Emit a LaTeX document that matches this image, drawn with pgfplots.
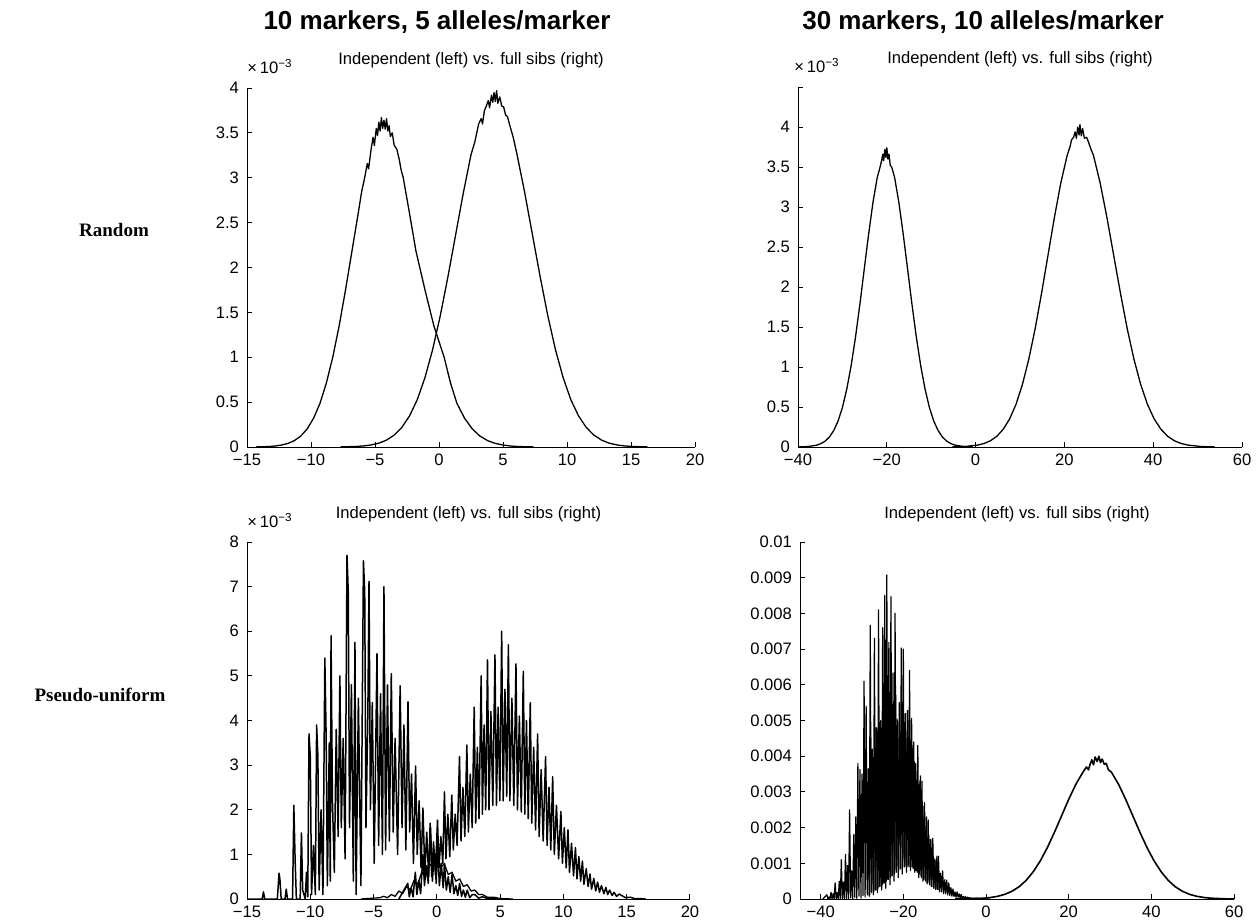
\documentclass[border=0pt]{standalone}
\usepackage{fontspec}
\setmainfont{Liberation Sans}
\newfontfamily\rowserif{Liberation Serif}
\usepackage{pgfplots}
\pgfplotsset{compat=1.18}
\newcommand\tfont{\fontsize{8.3}{10}\selectfont}
\pgfplotsset{
 d/.style={black, line width=0.65pt, mark=none, line join=round},
 mystyle/.style={
  scale only axis,
  anchor=south west,
  axis x line=bottom, axis y line=left,
  axis line style={-, line width=0.5pt, black},
  tick align=inside,
  major tick length=2.5pt,
  tick style={line width=0.5pt, black},
  ticklabel style={font=\tfont},
  yticklabel style={xshift=-0.5pt},
  title style={font=\tfont, at={(0.5,1)}, anchor=base, yshift=6pt},
  title={Independent (left) vs. full sibs (right)},
  /pgf/number format/assume math mode=true,
 },
 xten/.style={extra description/.code={\node[anchor=base west, font=\tfont, inner sep=0pt, xshift=#1] at (axis description cs:0,1) [yshift=7.5pt] {×\,10\textsuperscript{−3}};}},
}
\begin{document}
\begin{tikzpicture}
\path[use as bounding box] (0,0) rectangle (629pt,-461.5pt);

% column titles and row labels
\node[font=\fontsize{13}{15}\selectfont\bfseries] at (218.5pt,-11pt) {10 markers, 5 alleles/marker};
\node[font=\fontsize{13}{15}\selectfont\bfseries] at (491.5pt,-11pt) {30 markers, 10 alleles/marker};
\node[font=\rowserif\fontsize{9.5}{11}\selectfont\bfseries] at (57pt,-115pt) {Random};
\node[font=\rowserif\fontsize{9.5}{11}\selectfont\bfseries] at (50pt,-347.5pt) {Pseudo-uniform};

% ---------------- top left ----------------
\begin{axis}[mystyle, xten=0pt, at={(123.5pt,-223.5pt)}, width=224pt, height=179.5pt,
  xmin=-15, xmax=20, ymin=0, ymax=4,
  xtick={-15,-10,-5,0,5,10,15,20}, xticklabels={−15,−10,−5,0,5,10,15,20},
  ytick={0,0.5,1,1.5,2,2.5,3,3.5,4}, yticklabels={0,0.5,1,1.5,2,2.5,3,3.5,4}]
\addplot[d] coordinates {(-14.3,0.001) (-13.3,0.005) (-12.8,0.011) (-12.3,0.022) (-11.8,0.040) (-11.3,0.071) (-10.8,0.122) (-10.3,0.202) (-9.8,0.320) (-9.3,0.486) (-8.8,0.713) (-8.3,1.001) (-7.8,1.350) (-7.3,1.753) (-6.8,2.183) (-6.3,2.614) (-6.05,2.84) (-5.8,3.006) (-5.6,3.16) (-5.5,3.10) (-5.3,3.323) (-5.15,3.45) (-5.05,3.36) (-4.9,3.55) (-4.8,3.47) (-4.7,3.62) (-4.6,3.52) (-4.5,3.67) (-4.4,3.55) (-4.3,3.64) (-4.2,3.54) (-4.1,3.66) (-4.0,3.52) (-3.9,3.58) (-3.8,3.46) (-3.65,3.50) (-3.5,3.36) (-3.3,3.32) (-3.1,3.20) (-2.95,3.08) (-2.8,3.006) (-2.3,2.60) (-1.8,2.183) (-1.1,1.753) (-0.4,1.350) (0.4,1.001) (0.9,0.713) (1.4,0.486) (2.0,0.320) (2.6,0.202) (3.2,0.122) (3.8,0.071) (4.4,0.040) (5.0,0.022) (5.6,0.011) (6.2,0.005) (7.4,0.001)};
\addplot[d] coordinates {(-7.7,0.001) (-6.5,0.006) (-5.9,0.012) (-5.3,0.023) (-4.7,0.043) (-4.1,0.077) (-3.5,0.133) (-2.9,0.219) (-2.3,0.347) (-1.7,0.527) (-1.1,0.772) (-0.5,1.084) (0.1,1.463) (0.7,1.899) (1.3,2.365) (1.9,2.831) (2.5,3.257) (2.8,3.40) (3.1,3.600) (3.3,3.66) (3.4,3.60) (3.55,3.75) (3.7,3.80) (3.85,3.86) (3.95,3.78) (4.1,3.92) (4.2,3.84) (4.3,3.95) (4.4,3.85) (4.5,3.97) (4.6,3.83) (4.75,3.90) (4.9,3.80) (5.05,3.79) (5.2,3.70) (5.35,3.68) (5.5,3.60) (5.8,3.45) (6.1,3.257) (6.7,2.831) (7.3,2.365) (7.9,1.899) (8.5,1.463) (9.1,1.084) (9.7,0.772) (10.3,0.527) (10.9,0.347) (11.5,0.219) (12.1,0.133) (12.7,0.077) (13.3,0.043) (13.9,0.023) (14.5,0.012) (15.1,0.006) (16.3,0.001)};
\end{axis}

% ---------------- top right ----------------
\begin{axis}[mystyle, xten=-2pt, at={(399pt,-223.5pt)}, width=222pt, height=180pt,
  xmin=-40, xmax=60, ymin=0, ymax=4.5,
  xtick={-40,-20,0,20,40,60}, xticklabels={−40,−20,0,20,40,60},
  ytick={0,0.5,1,1.5,2,2.5,3,3.5,4}, yticklabels={0,0.5,1,1.5,2,2.5,3,3.5,4},
  extra y ticks={4.5}, extra y tick labels={}]
\addplot[d] coordinates {(-39.8,0.001) (-37.84,0.0055) (-35.88,0.022) (-34.90,0.041) (-33.92,0.072) (-32.94,0.124) (-31.96,0.205) (-30.98,0.324) (-30.00,0.493) (-29.02,0.723) (-28.04,1.015) (-27.06,1.369) (-26.08,1.778) (-25.10,2.214) (-24.12,2.650) (-23.14,3.048) (-22.16,3.369) (-21.7,3.46) (-21.18,3.577) (-20.9,3.66) (-20.7,3.58) (-20.45,3.72) (-20.2,3.62) (-20.0,3.74) (-19.75,3.60) (-19.5,3.66) (-19.22,3.52) (-18.9,3.50) (-18.24,3.369) (-17.26,3.048) (-16.28,2.650) (-15.30,2.214) (-14.32,1.778) (-13.34,1.369) (-12.36,1.015) (-11.38,0.723) (-10.40,0.493) (-9.42,0.324) (-8.44,0.205) (-7.46,0.124) (-6.48,0.072) (-5.50,0.041) (-4.52,0.022) (-2.56,0.0055) (-0.6,0.001)};
\addplot[d] coordinates {(-5.3,0.001) (-2.42,0.006) (0.46,0.024) (1.90,0.044) (3.34,0.078) (4.78,0.134) (6.22,0.222) (7.66,0.351) (9.10,0.533) (10.54,0.782) (11.98,1.098) (13.42,1.481) (14.86,1.924) (16.30,2.396) (17.74,2.868) (19.18,3.298) (20.62,3.646) (21.3,3.76) (21.6,3.84) (22.06,3.871) (22.4,3.94) (22.7,3.86) (23.0,4.00) (23.3,3.90) (23.5,4.03) (23.8,3.89) (24.1,3.98) (24.5,3.86) (25.02,3.871) (25.5,3.80) (26.0,3.72) (26.54,3.646) (28.06,3.298) (29.58,2.868) (31.10,2.396) (32.62,1.924) (34.14,1.481) (35.66,1.098) (37.18,0.782) (38.70,0.533) (40.22,0.351) (41.74,0.222) (43.26,0.134) (44.78,0.078) (46.30,0.044) (47.82,0.024) (50.86,0.006) (53.9,0.001)};
\end{axis}

% ---------------- bottom left ----------------
\begin{axis}[mystyle, xten=0pt, at={(123.5pt,-449.5pt)}, width=221.5pt, height=178.5pt,
  xmin=-15, xmax=20, ymin=0, ymax=8,
  xtick={-15,-10,-5,0,5,10,15,20}, xticklabels={−15,−10,−5,0,5,10,15,20},
  ytick={0,1,2,3,4,5,6,7,8}, yticklabels={0,1,2,3,4,5,6,7,8}]
\addplot[d, line width=0.75pt] coordinates {(-15,0) (-13.8,0) (-13.7,0.16) (-13.6,0) (-12.6,0) (-12.47,0.58) (-12.4,0.45) (-12.3,0) (-12.0,0) (-11.9,0.22) (-11.8,0) (-11.4,0) (-11.3,2.1) (-11.2,0.9) (-11.1,0) (-10.8,0) (-10.7,1.48) (-10.6,0.2) (-10.4,0) (-10.3,0.6) (-10.2,0.05) (-10.1,3.7) (-10.0,3.2) (-9.9,0.1) (-9.75,1.2) (-9.6,0.1) (-9.5,3.9) (-9.4,3.2) (-9.3,0.2) (-9.15,2.0) (-9.0,0.1) (-8.85,5.4) (-8.75,3.7) (-8.65,0.3) (-8.5,3.5) (-8.42,0.4) (-8.36,5.9) (-8.25,2.2) (-8.1,0.6) (-7.95,3.8) (-7.8,1.4) (-7.66,5.0) (-7.55,1.6) (-7.4,3.6) (-7.25,0.9) (-7.1,7.7) (-7.0,6.9) (-6.9,1.6) (-6.75,4.8) (-6.6,0.4) (-6.47,5.75) (-6.38,0.1) (-6.2,4.5) (-6.0,0.3) (-5.8,7.58) (-5.7,6.9) (-5.6,1.6) (-5.45,4.2) (-5.36,7.12) (-5.25,2.0) (-5.1,4.4) (-4.95,0.8) (-4.73,5.5) (-4.6,1.2) (-4.45,4.6) (-4.3,1.0) (-4.18,7.0) (-4.05,1.1) (-3.9,4.8) (-3.75,1.3) (-3.6,5.05) (-3.45,1.5) (-3.3,3.6) (-3.1,1.0) (-2.9,4.78) (-2.75,1.6) (-2.6,3.9) (-2.45,1.1) (-2.28,4.42) (-2.15,1.5) (-2.0,2.8) (-1.85,0.8) (-1.68,2.98) (-1.55,1.0) (-1.4,2.2) (-1.25,0.7) (-1.1,2.04) (-0.95,0.6) (-0.8,1.5) (-0.65,0.5) (-0.5,1.6) (-0.35,0.4) (-0.2,1.1) (-0.05,0.35) (0.05,1.2) (0.2,0.3) (0.35,0.8) (0.5,0.25) (0.6,0.8) (0.75,0.2) (0.9,0.5) (1.05,0.15) (1.2,0.55) (1.35,0.12) (1.5,0.3) (1.65,0.08) (1.8,0.35) (1.95,0.06) (2.1,0.2) (2.25,0.04) (2.4,0.2) (2.6,0.03) (2.8,0.1) (3.0,0.1) (3.3,0.02) (3.6,0.05) (4.0,0.01) (4.2,0.02) (5,0)};
\addplot[d, line width=0.75pt] coordinates {(-3,0) (-2.3,0.35) (-2.18,0.05) (-2.03,0.25) (-1.88,0.05) (-1.7,0.6) (-1.58,0.1) (-1.43,0.42) (-1.28,0.12) (-1.1,1.0) (-0.98,0.3) (-0.83,0.75) (-0.68,0.35) (-0.53,1.7) (-0.41,0.5) (-0.26,1.28) (-0.11,0.55) (0.05,1.77) (0.17,0.7) (0.32,1.4) (0.47,0.8) (0.6,2.4) (0.72,0.9) (0.87,1.9) (1.02,0.95) (1.18,2.33) (1.3,1.1) (1.45,1.9) (1.6,1.2) (1.79,3.19) (1.91,1.3) (2.06,2.5) (2.21,1.4) (2.37,3.45) (2.49,1.5) (2.64,2.8) (2.79,1.6) (2.95,4.3) (3.07,1.7) (3.2,3.4) (3.33,1.8) (3.5,5.0) (3.6,1.9) (3.73,3.9) (3.86,2.0) (4.0,5.36) (4.12,2.0) (4.27,4.2) (4.42,2.1) (4.59,5.47) (4.71,2.1) (4.84,4.3) (4.98,2.2) (5.12,6.0) (5.24,2.2) (5.38,4.7) (5.52,2.3) (5.65,5.7) (5.77,2.2) (5.93,4.5) (6.08,2.1) (6.25,5.27) (6.37,2.0) (6.52,4.1) (6.67,1.95) (6.83,5.1) (6.95,1.9) (7.08,4.0) (7.22,1.8) (7.38,4.4) (7.5,1.7) (7.65,3.4) (7.8,1.55) (7.96,3.7) (8.08,1.4) (8.24,2.9) (8.4,1.3) (8.59,3.19) (8.71,1.2) (8.86,2.5) (9.0,1.1) (9.15,2.74) (9.28,1.0) (9.45,2.1) (9.62,0.9) (9.8,1.96) (9.92,0.8) (10.07,1.6) (10.22,0.7) (10.36,1.55) (10.48,0.6) (10.64,1.25) (10.8,0.52) (10.95,1.15) (11.07,0.45) (11.22,0.95) (11.36,0.4) (11.5,0.85) (11.62,0.33) (11.8,0.68) (11.95,0.28) (12.1,0.56) (12.22,0.22) (12.4,0.46) (12.55,0.18) (12.7,0.38) (12.85,0.15) (13.0,0.3) (13.2,0.12) (13.35,0.26) (13.5,0.1) (13.65,0.2) (13.85,0.08) (14.0,0.15) (14.2,0.06) (14.4,0.11) (14.6,0.08) (14.9,0.03) (15.3,0.04) (15.6,0.01) (16,0.01) (16.5,0)};
\addplot[d] coordinates {(-6,0) (-5,0.02) (-4.5,0.03) (-4.2,0.06) (-3.9,0.03) (-3.6,0.1) (-3.3,0.06) (-3.0,0.18) (-2.7,0.12) (-2.4,0.28) (-2.1,0.2) (-1.8,0.42) (-1.5,0.33) (-1.2,0.6) (-0.9,0.5) (-0.6,0.8) (-0.3,0.7) (0,0.95) (0.3,0.72) (0.6,0.78) (0.9,0.55) (1.2,0.6) (1.5,0.4) (1.8,0.45) (2.1,0.28) (2.4,0.32) (2.7,0.18) (3.0,0.2) (3.3,0.1) (3.6,0.1) (4.0,0.04) (4.5,0.04) (5.0,0.01) (6,0)};
\end{axis}

% ---------------- bottom right ----------------
\begin{axis}[mystyle, at={(400pt,-449.5pt)}, width=217pt, height=178.5pt,
  xmin=-45, xmax=60, ymin=0, ymax=10,
  xtick={-40,-20,0,20,40,60}, xticklabels={−40,−20,0,20,40,60},
  ytick={0,1,2,3,4,5,6,7,8,9,10}, yticklabels={0,0.001,0.002,0.003,0.004,0.005,0.006,0.007,0.008,0.009,0.01}]
\addplot[d, line width=0.6pt] coordinates {(-39.5,0) (-38.5,0.12) (-38.25,0) (-38.0,0.06) (-37.75,0) (-37.5,0.19) (-37.25,0) (-37.0,0.15) (-36.75,0) (-36.5,0.45) (-36.25,0) (-36.0,0.18) (-35.75,0) (-35.5,0.5) (-35.25,0) (-35.0,1.1) (-34.75,0) (-34.5,0.47) (-34.25,0) (-34.0,1.25) (-33.75,0.02) (-33.5,0.94) (-33.25,0) (-33.0,2.5) (-32.75,0.03) (-32.5,0.79) (-32.25,0) (-32.0,1.8) (-31.75,0.05) (-31.5,2.3) (-31.25,0.02) (-31.0,3.8) (-30.75,0.08) (-30.5,3.63) (-30.25,0.03) (-30.0,3.5) (-29.75,0.1) (-29.5,6.1) (-29.25,0.05) (-29.0,5.4) (-28.75,0.15) (-28.5,3.65) (-28.25,0.08) (-28.0,7.67) (-27.75,0.2) (-27.5,4.2) (-27.25,0.12) (-27.0,7.3) (-26.75,0.25) (-26.5,4.8) (-26.25,0.18) (-26.0,8.1) (-25.75,0.35) (-25.5,5.0) (-25.25,0.25) (-25.0,7.6) (-24.75,0.45) (-24.5,8.5) (-24.25,0.3) (-24.0,9.08) (-23.75,0.55) (-23.5,7.19) (-23.25,0.4) (-23.0,8.47) (-22.75,0.65) (-22.5,6.33) (-22.25,0.5) (-22.0,8.0) (-21.75,0.75) (-21.5,5.04) (-21.25,0.6) (-21.0,5.5) (-20.75,0.85) (-20.5,7.03) (-20.25,0.7) (-20.0,7.0) (-19.75,0.9) (-19.5,5.2) (-19.25,0.75) (-19.0,5.28) (-18.75,0.95) (-18.5,6.4) (-18.25,0.8) (-18.0,5.06) (-17.75,0.9) (-17.5,4.4) (-17.25,0.75) (-17.0,3.8) (-16.75,0.8) (-16.5,4.3) (-16.25,0.6) (-16.0,3.3) (-15.75,0.65) (-15.5,3.3) (-15.25,0.5) (-15.0,2.6) (-14.75,0.55) (-14.5,2.04) (-14.25,0.42) (-14.0,2.22) (-13.75,0.45) (-13.5,1.67) (-13.25,0.35) (-13.0,1.68) (-12.75,0.35) (-12.5,1.12) (-12.25,0.27) (-12.0,1.14) (-11.75,0.27) (-11.5,1.2) (-11.25,0.2) (-11.0,0.72) (-10.75,0.2) (-10.5,0.79) (-10.25,0.15) (-10.0,0.54) (-9.75,0.15) (-9.5,0.53) (-9.25,0.11) (-9.0,0.45) (-8.75,0.1) (-8.5,0.32) (-8.25,0.08) (-8.0,0.28) (-7.75,0.07) (-7.5,0.2) (-7.25,0.05) (-7.0,0.2) (-6.75,0.05) (-6.5,0.14) (-6.25,0.03) (-6.0,0.13) (-5.75,0.03) (-5.5,0.07) (-5.25,0.02) (-5.0,0.07) (-4.75,0.02) (-4.5,0.05) (-4.0,0.03) (-3.0,0.02) (-2.0,0.02) (-1.0,0.01) (1.0,0)};
\addplot[d, line width=0.6pt] coordinates {(-28.6,0.1) (-28.375,3.6) (-28.125,0.12) (-27.875,4.5) (-27.625,0.18) (-27.375,3.6) (-27.125,0.2) (-26.875,4.8) (-26.625,0.25) (-26.375,4.75) (-26.125,0.3) (-25.875,4.4) (-25.625,0.35) (-25.375,4.8) (-25.125,0.4) (-24.875,5.8) (-24.625,0.45) (-24.375,4.5) (-24.125,0.5) (-23.875,5.7) (-23.625,0.55) (-23.375,5.5) (-23.125,0.6) (-22.875,4.9) (-22.625,0.65) (-22.375,5.2) (-22.125,0.7) (-21.875,6.0) (-21.625,0.75) (-21.375,4.5) (-21.125,0.8) (-20.875,5.5) (-20.625,0.85) (-20.375,5.1) (-20.125,0.9) (-19.875,4.4) (-19.625,0.9) (-19.375,4.5) (-19.125,0.9) (-18.875,5.0) (-18.625,0.9) (-18.375,3.6) (-18.125,0.9) (-17.875,4.3) (-17.625,0.85) (-17.375,3.85) (-17.125,0.8) (-16.875,3.2) (-16.625,0.75) (-16.375,3.2) (-16.125,0.7) (-15.875,3.45) (-15.625,0.6) (-15.375,2.4) (-15.125,0.55) (-14.875,2.7) (-14.625,0.5) (-14.375,2.3) (-14.125,0.45) (-13.875,1.8) (-13.625,0.4) (-13.375,1.65) (-13.125,0.35) (-12.875,1.7) (-12.625,0.3) (-12.375,1.1) (-12.125,0.27) (-11.875,1.2) (-11.6,0.25)};
\addplot[d, line width=0.8pt] coordinates {(-7.5,0.001) (-4.06,0.006) (-0.62,0.023) (1.10,0.043) (2.82,0.076) (4.54,0.131) (6.26,0.216) (7.98,0.342) (9.70,0.520) (11.42,0.762) (13.14,1.070) (14.86,1.444) (16.58,1.875) (18.30,2.335) (20.02,2.795) (21.74,3.215) (23.46,3.554) (24.3,3.70) (24.8,3.62) (25.18,3.773) (25.6,3.90) (26.0,3.76) (26.4,3.98) (26.9,3.85) (27.3,4.00) (27.7,3.82) (28.1,3.92) (28.62,3.773) (29.1,3.80) (29.6,3.62) (30.34,3.554) (32.06,3.215) (33.78,2.795) (35.50,2.335) (37.22,1.875) (38.94,1.444) (40.66,1.070) (42.38,0.762) (44.10,0.520) (45.82,0.342) (47.54,0.216) (49.26,0.131) (50.98,0.076) (52.70,0.043) (54.42,0.023) (57.86,0.006) (60,0.002)};
\end{axis}
\end{tikzpicture}
\end{document}
